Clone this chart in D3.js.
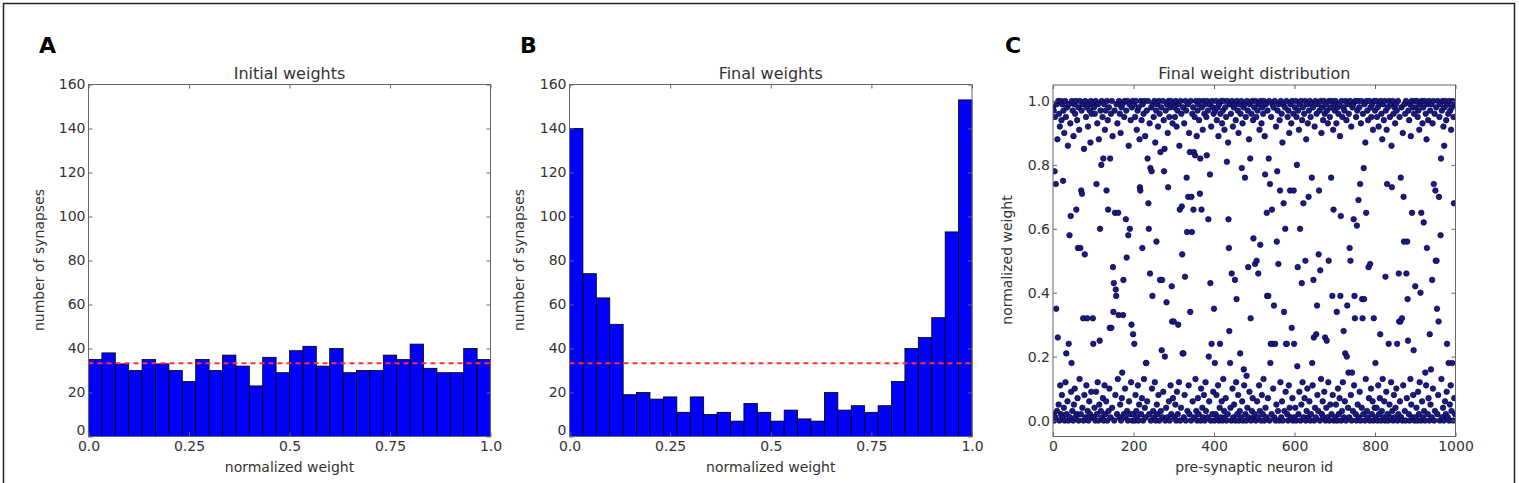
<!DOCTYPE html>
<html>
<head>
<meta charset="utf-8">
<script src="https://cdn.jsdelivr.net/npm/d3@7"></script>
<style>
  body { margin: 0; background: #fff; }
  svg text { font-family: "DejaVu Sans", sans-serif; fill: #333; }
</style>
</head>
<body>
<script>
// histogram counts, 30 bins over [0, 1]
const initialCounts = [35, 38, 33, 30, 35, 33, 30, 25, 35, 30, 37, 32, 23, 36, 29,
  39, 41, 32, 40, 29, 30, 30, 37, 35, 42, 31, 29, 29, 40, 35];
const finalCounts = [140, 74, 63, 51, 19, 20, 17, 18, 11, 18, 10, 11, 7, 15, 11,
  7, 12, 8, 7, 20, 12, 14, 11, 14, 25, 40, 45, 54, 93, 153];
const uniformLevel = 33.33; // 1000 synapses / 30 bins

const weightTicks = [0, 0.25, 0.5, 0.75, 1];
const weightTickLabels = ['0.0', '0.25', '0.5', '0.75', '1.0'];
const countTicks = [0, 20, 40, 60, 80, 100, 120, 140, 160];
const neuronTicks = [0, 200, 400, 600, 800, 1000];
const finalWeightTicks = [0, 0.2, 0.4, 0.6, 0.8, 1.0];

// final weight of each pre-synaptic neuron (index = id), in hundredths
const finalWeightPct = [
  98, 2, 97, 0, 78, 95, 1, 74, 35, 99, 3, 88, 26, 100, 5, 96, 0, 92, 11, 100,
  2, 94, 8, 99, 1, 75, 97, 4, 90, 0, 100, 12, 95, 21, 2, 98, 6, 86, 0, 24,
  99, 58, 1, 93, 64, 9, 18, 100, 3, 97, 0, 89, 5, 99, 10, 96, 1, 100, 66, 2,
  94, 7, 54, 98, 0, 91, 13, 100, 54, 2, 72, 97, 71, 4, 99, 32, 0, 85, 8, 52,
  100, 1, 95, 11, 98, 32, 3, 92, 0, 99, 6, 97, 2, 87, 100, 9, 96, 1, 99, 32,

  24, 1, 98, 4, 96, 0, 100, 9, 74, 2, 93, 12, 99, 0, 88, 5, 25, 60, 97, 3,
  80, 100, 1, 95, 7, 82, 0, 99, 11, 91, 2, 97, 6, 72, 100, 0, 94, 66, 3, 98,
  10, 29, 82, 1, 96, 29, 100, 4, 89, 48, 34, 43, 0, 97, 65, 8, 41, 39, 99, 2,
  93, 13, 65, 33, 100, 1, 96, 5, 90, 0, 98, 7, 15, 99, 33, 44, 2, 95, 100, 10,
  1, 63, 97, 51, 3, 100, 0, 58, 86, 6, 99, 60, 2, 94, 12, 30, 98, 0, 100, 27,

  2, 99, 24, 0, 95, 8, 100, 3, 91, 1, 97, 11, 0, 98, 5, 88, 73, 72, 100, 2,
  94, 7, 54, 99, 0, 96, 13, 100, 4, 89, 1, 18, 18, 97, 6, 82, 100, 68, 60, 2,
  93, 46, 79, 0, 98, 78, 10, 39, 99, 3, 95, 1, 100, 12, 87, 0, 97, 56, 5, 99,
  2, 92, 8, 100, 0, 96, 44, 84, 3, 98, 22, 44, 1, 100, 9, 94, 78, 85, 20, 0,
  97, 4, 37, 99, 1, 90, 73, 100, 6, 95, 0, 98, 11, 100, 2, 42, 31, 93, 7, 99,

  31, 98, 1, 95, 5, 100, 0, 92, 9, 97, 2, 30, 99, 12, 86, 66, 0, 100, 4, 96,
  67, 52, 21, 98, 21, 1, 93, 8, 45, 100, 0, 97, 76, 59, 3, 99, 70, 11, 90, 2,
  84, 34, 100, 0, 70, 59, 96, 6, 98, 66, 84, 1, 95, 83, 13, 100, 3, 89, 0, 97,
  7, 99, 2, 94, 100, 71, 82, 0, 10, 66, 98, 4, 91, 1, 100, 8, 96, 0, 99, 12,
  3, 95, 83, 100, 1, 97, 63, 20, 6, 99, 77, 43, 0, 92, 24, 100, 2, 98, 9, 96,

  35, 0, 18, 97, 2, 100, 8, 94, 1, 98, 11, 89, 0, 99, 4, 24, 96, 1, 100, 6,
  93, 0, 97, 13, 100, 3, 91, 1, 98, 7, 95, 0, 81, 100, 2, 87, 63, 54, 28, 99,
  18, 4, 96, 0, 46, 100, 10, 92, 1, 98, 5, 99, 44, 0, 94, 12, 38, 100, 2, 97,
  8, 90, 0, 99, 3, 21, 96, 1, 100, 79, 6, 93, 0, 98, 16, 11, 99, 76, 2, 95,
  0, 14, 100, 4, 97, 48, 1, 88, 9, 99, 82, 32, 0, 96, 3, 100, 7, 94, 57, 1,

  98, 2, 49, 100, 0, 95, 50, 6, 97, 1, 46, 99, 11, 91, 3, 55, 100, 0, 93, 8,
  98, 2, 96, 13, 100, 0, 89, 77, 4, 99, 1, 65, 39, 97, 7, 39, 82, 100, 0, 74,
  18, 24, 95, 2, 66, 99, 24, 10, 98, 36, 1, 100, 24, 0, 92, 5, 56, 78, 97, 3,
  49, 99, 0, 94, 72, 12, 100, 1, 96, 6, 87, 0, 99, 68, 34, 3, 98, 60, 9, 24,
  100, 24, 2, 95, 0, 97, 11, 90, 4, 72, 99, 1, 93, 29, 100, 7, 0, 96, 72, 24,

  1, 98, 4, 100, 0, 95, 80, 17, 48, 97, 2, 91, 9, 99, 60, 0, 100, 5, 43, 94,
  12, 98, 68, 1, 96, 7, 100, 50, 0, 88, 3, 99, 10, 93, 1, 70, 97, 6, 100, 0,
  95, 2, 99, 76, 18, 11, 98, 44, 26, 0, 92, 4, 100, 1, 27, 96, 36, 8, 99, 3,
  52, 72, 97, 0, 47, 100, 13, 90, 2, 98, 6, 94, 1, 100, 9, 96, 26, 0, 99, 4,
  25, 97, 1, 93, 12, 50, 100, 0, 95, 5, 98, 76, 2, 100, 39, 8, 91, 66, 0, 99,

  97, 1, 100, 5, 93, 34, 0, 98, 10, 96, 2, 99, 7, 89, 39, 64, 0, 100, 3, 95,
  12, 98, 28, 1, 97, 6, 21, 100, 0, 94, 20, 36, 99, 4, 15, 96, 1, 54, 100, 50,
  8, 92, 0, 15, 98, 3, 99, 63, 11, 39, 32, 100, 2, 95, 0, 61, 97, 5, 100, 69,
  1, 98, 9, 74, 0, 93, 100, 4, 38, 32, 96, 2, 79, 38, 99, 0, 87, 13, 65, 100,
  3, 97, 1, 94, 48, 7, 100, 0, 49, 98, 10, 95, 2, 99, 6, 91, 0, 32, 100, 4,

  97, 18, 1, 100, 4, 95, 0, 98, 11, 92, 2, 99, 7, 27, 100, 0, 96, 3, 88, 13,
  99, 1, 94, 6, 100, 0, 45, 97, 9, 91, 74, 2, 98, 0, 24, 100, 5, 95, 1, 99,
  12, 86, 73, 3, 100, 0, 96, 8, 98, 1, 93, 4, 99, 10, 97, 24, 0, 100, 2, 46,
  31, 95, 6, 31, 76, 1, 98, 32, 0, 90, 11, 70, 56, 99, 3, 96, 0, 100, 46, 7,
  56, 38, 25, 97, 2, 94, 0, 99, 13, 89, 5, 100, 65, 1, 98, 8, 22, 96, 0, 100,

  42, 1, 98, 4, 100, 0, 95, 9, 97, 2, 91, 12, 99, 40, 0, 65, 100, 6, 93, 1,
  98, 62, 3, 100, 0, 15, 96, 11, 88, 54, 99, 2, 94, 7, 100, 0, 27, 97, 5, 16,
  99, 1, 44, 93, 10, 100, 74, 0, 96, 3, 72, 50, 98, 50, 35, 2, 100, 8, 31, 70,
  95, 0, 99, 58, 82, 13, 97, 1, 100, 4, 92, 0, 86, 98, 6, 100, 2, 94, 9, 24,
  99, 1, 96, 18, 0, 100, 5, 97, 11, 91, 3, 98, 18, 100, 0, 95, 68, 7, 99, 2
];

const W = 1519, H = 483;
const svg = d3.select('body').append('svg')
  .attr('width', W)
  .attr('height', H);

// outer figure frame
svg.append('rect')
  .attr('x', 3.5).attr('y', 3.5)
  .attr('width', 1511).attr('height', 500)
  .attr('fill', 'none')
  .attr('stroke', '#222')
  .attr('stroke-width', 1.5);

const frameColor = '#666';

function drawFrame(g, x, y, xTicks, xFmt, yTicks, yFmt, liftFirst) {
  const [x0, x1] = x.range();
  const [yb, yt] = y.range();

  g.append('g')
    .attr('transform', `translate(0,${yb})`)
    .call(d3.axisBottom(x).tickValues(xTicks).tickFormat(xFmt).tickSize(-4).tickPadding(5));
  g.append('g')
    .attr('transform', `translate(0,${yt})`)
    .call(d3.axisTop(x).tickValues(xTicks).tickFormat(() => '').tickSize(-4));
  const left = g.append('g')
    .attr('transform', `translate(${x0},0)`)
    .call(d3.axisLeft(y).tickValues(yTicks).tickFormat(yFmt).tickSize(-4).tickPadding(3));
  g.append('g')
    .attr('transform', `translate(${x1},0)`)
    .call(d3.axisRight(y).tickValues(yTicks).tickFormat(() => '').tickSize(-4));

  // the "0" label sits on the corner: lift it a little so it clears "0.0"
  if (liftFirst) {
    left.selectAll('.tick text').filter(d => d === yTicks[0]).attr('y', -6);
  }

  g.selectAll('.domain').remove();
  g.selectAll('.tick line').attr('stroke', frameColor);
  g.selectAll('.tick text')
    .attr('font-size', 14)
    .attr('font-family', '"DejaVu Sans", sans-serif')
    .attr('fill', '#333');

  g.append('rect')
    .attr('x', x0).attr('y', yt)
    .attr('width', x1 - x0).attr('height', yb - yt)
    .attr('fill', 'none')
    .attr('stroke', frameColor)
    .attr('stroke-width', 1);
}

function labels(g, x, y, letter, letterX, title, xLabel, yLabel, yLabelX) {
  const [x0, x1] = x.range();
  const cx = (x0 + x1) / 2;
  g.append('text')
    .attr('x', letterX).attr('y', 53)
    .attr('font-family', '"Liberation Sans", Arial, sans-serif')
    .attr('font-weight', 'bold')
    .attr('font-size', 22)
    .style('fill', '#000')
    .text(letter);
  g.append('text')
    .attr('x', cx).attr('y', 79)
    .attr('text-anchor', 'middle')
    .attr('font-size', 16)
    .text(title);
  g.append('text')
    .attr('x', cx).attr('y', 472)
    .attr('text-anchor', 'middle')
    .attr('font-size', 14)
    .text(xLabel);
  g.append('text')
    .attr('transform', `translate(${yLabelX},260) rotate(-90)`)
    .attr('text-anchor', 'middle')
    .attr('font-size', 14)
    .text(yLabel);
}

function histogram(x0, x1, counts, letter, letterX, title, yLabelX) {
  const g = svg.append('g');
  const x = d3.scaleLinear().domain([0, 1]).range([x0, x1]);
  const y = d3.scaleLinear().domain([0, 160]).range([436.5, 84.5]);
  const binW = 1 / counts.length;

  g.selectAll('rect.bar')
    .data(counts)
    .enter()
    .append('rect')
    .attr('class', 'bar')
    .attr('x', (d, i) => x(i * binW))
    .attr('width', x(binW) - x(0))
    .attr('y', d => y(d))
    .attr('height', d => y(0) - y(d))
    .attr('fill', '#0000ff')
    .attr('stroke', '#000')
    .attr('stroke-width', 0.8);

  g.append('line')
    .attr('x1', x(0)).attr('x2', x(1))
    .attr('y1', y(uniformLevel)).attr('y2', y(uniformLevel))
    .attr('stroke', '#ff3030')
    .attr('stroke-width', 2)
    .attr('stroke-dasharray', '5,4');

  drawFrame(g, x, y, weightTicks, (d, i) => weightTickLabels[i], countTicks, d3.format('d'), true);
  labels(g, x, y, letter, letterX, title, 'normalized weight', 'number of synapses', yLabelX);
}

histogram(88.5, 490.5, initialCounts, 'A', 39, 'Initial weights', 44);
histogram(569.5, 972, finalCounts, 'B', 520, 'Final weights', 524);

// panel C: scatter of final weights
{
  const g = svg.append('g');
  const x = d3.scaleLinear().domain([0, 1000]).range([1053, 1455.5]);
  const y = d3.scaleLinear().domain([-0.05, 1.05]).range([436.5, 85]);

  svg.append('clipPath').attr('id', 'clipC')
    .append('rect')
    .attr('x', 1053).attr('y', 85)
    .attr('width', 402.5).attr('height', 351.5);

  g.append('g')
    .attr('clip-path', 'url(#clipC)')
    .selectAll('circle')
    .data(finalWeightPct)
    .enter()
    .append('circle')
    .attr('cx', (d, i) => x(i))
    .attr('cy', d => y(d / 100))
    .attr('r', 2.8)
    .attr('fill', '#1a1a80')
    .attr('stroke', '#00003a')
    .attr('stroke-width', 0.6);

  drawFrame(g, x, y, neuronTicks, d3.format('d'), finalWeightTicks, d3.format('.1f'), false);
  labels(g, x, y, 'C', 1005, 'Final weight distribution', 'pre-synaptic neuron id', 'normalized weight', 1012);
}
</script>
</body>
</html>
